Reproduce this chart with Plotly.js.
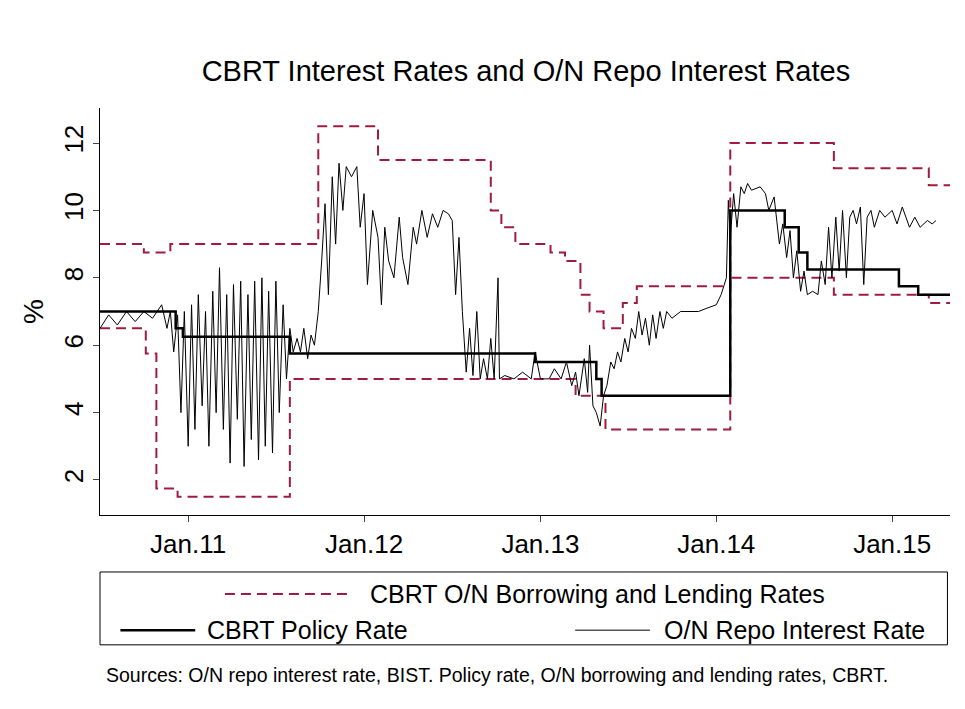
<!DOCTYPE html>
<html><head><meta charset="utf-8">
<script src="https://cdn.plot.ly/plotly-3.0.1.min.js"></script>
<style>body{margin:0;background:#fff}#gd{width:965px;height:709px}</style>
</head><body><div id="gd"></div>
<script>
// step series: [decimal year, value] start points
const upperT = [2010.5, 2010.75, 2010.9, 2011.74, 2012.08, 2012.72, 2012.78, 2012.86, 2013.06, 2013.14, 2013.23, 2013.28, 2013.36, 2013.47, 2013.55, 2014.08, 2014.67, 2015.21, 2015.33];
const upperV = [9, 8.75, 9, 12.5, 11.5, 10, 9.5, 9, 8.75, 8.5, 7.5, 7, 6.5, 7.25, 7.75, 12, 11.25, 10.75, 10.75];
const lowerT = [2010.5, 2010.76, 2010.82, 2010.94, 2011.58, 2013.2, 2013.37, 2014.08, 2014.67, 2015.21, 2015.33];
const lowerV = [6.5, 5.75, 1.75, 1.5, 5, 4.5, 3.5, 8, 7.5, 7.25, 7.25];
const policyT = [2010.5, 2010.93, 2010.97, 2011.58, 2012.97, 2013.32, 2013.35, 2014.08, 2014.39, 2014.47, 2014.52, 2015.04, 2015.15, 2015.33];
const policyV = [7, 6.5, 6.25, 5.75, 5.5, 5, 4.5, 10, 9.5, 8.75, 8.25, 7.75, 7.5, 7.5];
const repoT = [2010.5,2010.55,2010.6,2010.65,2010.7,2010.75,2010.8,2010.85,2010.88,2010.9,2010.92,2010.94,2010.96,2010.98,2011.0,2011.02,2011.04,2011.06,2011.08,2011.1,2011.12,2011.14,2011.16,2011.18,2011.2,2011.22,2011.24,2011.26,2011.28,2011.3,2011.32,2011.34,2011.36,2011.38,2011.4,2011.42,2011.44,2011.46,2011.48,2011.5,2011.52,2011.54,2011.56,2011.58,2011.6,2011.62,2011.64,2011.66,2011.68,2011.7,2011.72,2011.74,2011.76,2011.78,2011.8,2011.82,2011.84,2011.86,2011.88,2011.9,2011.93,2011.96,2011.98,2012.0,2012.02,2012.05,2012.08,2012.1,2012.12,2012.14,2012.17,2012.2,2012.22,2012.25,2012.28,2012.3,2012.33,2012.36,2012.39,2012.42,2012.45,2012.48,2012.5,2012.52,2012.54,2012.56,2012.58,2012.6,2012.62,2012.64,2012.66,2012.68,2012.7,2012.72,2012.74,2012.76,2012.77,2012.8,2012.85,2012.9,2012.95,2012.97,2013.0,2013.05,2013.08,2013.12,2013.15,2013.18,2013.2,2013.22,2013.25,2013.27,2013.28,2013.3,2013.32,2013.34,2013.36,2013.38,2013.4,2013.42,2013.44,2013.46,2013.48,2013.5,2013.52,2013.54,2013.56,2013.58,2013.6,2013.62,2013.64,2013.66,2013.68,2013.7,2013.72,2013.75,2013.8,2013.85,2013.9,2013.95,2014.0,2014.03,2014.06,2014.07,2014.08,2014.1,2014.12,2014.14,2014.16,2014.18,2014.2,2014.25,2014.28,2014.3,2014.33,2014.36,2014.38,2014.4,2014.42,2014.44,2014.46,2014.48,2014.5,2014.52,2014.55,2014.58,2014.6,2014.62,2014.64,2014.66,2014.68,2014.7,2014.72,2014.74,2014.76,2014.78,2014.8,2014.82,2014.84,2014.86,2014.88,2014.9,2014.93,2014.96,2015.0,2015.03,2015.06,2015.1,2015.13,2015.16,2015.2,2015.23,2015.25];
const repoV = [6.5,6.9,6.6,7.0,6.7,7.0,6.8,7.2,6.5,7.0,5.8,6.9,4.0,7.0,3.0,7.2,3.5,7.5,4.2,7.0,3.0,7.6,4.0,8.3,3.5,7.5,2.5,7.8,3.8,7.9,2.4,7.5,3.2,7.9,2.6,8.0,3.0,7.6,2.8,7.9,4.0,7.2,5.0,6.5,5.8,6.2,5.8,6.5,5.6,6.3,6.0,7.0,8.5,10.2,7.5,11.0,9.0,11.4,10.0,11.3,11.0,11.3,9.5,10.5,7.8,10.0,9.2,7.2,9.5,8.5,8.0,9.8,8.6,7.8,9.5,9.0,10.0,9.2,9.9,9.5,10.0,9.9,9.7,7.5,9.2,7.0,5.2,6.5,5.1,7.0,5.0,5.6,5.0,6.2,5.0,8.0,5.0,5.1,5.0,5.2,5.0,5.8,5.0,5.0,5.3,5.0,5.5,4.8,5.2,4.5,5.6,4.6,6.0,4.2,4.0,3.6,4.5,4.8,5.5,5.3,5.8,5.5,6.2,5.8,6.5,6.2,7.0,6.3,6.8,6.0,6.9,6.2,7.0,6.5,7.0,6.8,7.0,7.0,7.0,7.1,7.2,7.5,8.0,10.3,9.2,10.5,9.5,10.7,10.5,10.8,10.6,10.7,10.5,10.0,10.4,9.0,9.6,8.6,9.4,8.0,8.8,7.6,8.2,7.5,7.6,7.5,8.5,7.8,9.5,8.0,9.8,8.2,10.0,8.0,9.8,10.0,9.6,10.1,7.8,9.8,10.0,9.5,10.0,9.8,10.0,9.6,10.1,9.5,9.8,9.5,9.7,9.6,9.7];
const tickYears = [2011, 2012, 2013, 2014, 2015];
const tickText = ['Jan.11', 'Jan.12', 'Jan.13', 'Jan.14', 'Jan.15'];

function toDate(y) {
  const yr = Math.floor(y);
  const start = Date.UTC(yr, 0, 1), end = Date.UTC(yr + 1, 0, 1);
  return new Date(start + (y - yr) * (end - start)).toISOString().slice(0, 10);
}
const red = '#a01c3e';
const data = [
  {x: upperT.map(toDate), y: upperV, mode: 'lines', line: {shape: 'hv', color: red, width: 2, dash: '10px,6px'}},
  {x: lowerT.map(toDate), y: lowerV, mode: 'lines', line: {shape: 'hv', color: red, width: 2, dash: '10px,6px'}},
  {x: repoT.map(toDate), y: repoV, mode: 'lines', line: {color: '#000', width: 1}},
  {x: policyT.map(toDate), y: policyV, mode: 'lines', line: {shape: 'hv', color: '#000', width: 2.5}}
];
const f = 'Liberation Sans, Arial, sans-serif';
const layout = {
  width: 965, height: 709, showlegend: false,
  paper_bgcolor: '#fff', plot_bgcolor: '#fff',
  margin: {l: 100, r: 15, t: 108, b: 194},
  title: {text: 'CBRT Interest Rates and O/N Repo Interest Rates', font: {family: f, size: 29, color: '#000'}, x: 0.545, y: 0.9, yanchor: 'middle'},
  xaxis: {type: 'date', range: [toDate(2010.5), toDate(2015.33)], tickvals: tickYears.map(toDate), ticktext: tickText,
    showgrid: false, zeroline: false, showline: true, linecolor: '#000', ticks: 'outside', ticklen: 6,
    tickfont: {family: f, size: 26, color: '#000'}},
  yaxis: {range: [0.96, 13.04], tickvals: [2, 4, 6, 8, 10, 12], tickangle: -90, showgrid: false, zeroline: false,
    showline: true, linecolor: '#000', ticks: 'outside', ticklen: 6, tickfont: {family: f, size: 26, color: '#000'},
    title: {text: '%', font: {family: f, size: 28, color: '#000'}, standoff: 6}},
  shapes: [
    {type: 'rect', xref: 'paper', yref: 'paper', x0: 0, x1: 0.997, y0: -0.319, y1: -0.140, line: {color: '#000', width: 1}},
    {type: 'line', xref: 'paper', yref: 'paper', x0: 0.147, x1: 0.297, y0: -0.194, y1: -0.194, line: {color: red, width: 2, dash: '10px,6px'}},
    {type: 'line', xref: 'paper', yref: 'paper', x0: 0.024, x1: 0.112, y0: -0.283, y1: -0.283, line: {color: '#000', width: 2.5}},
    {type: 'line', xref: 'paper', yref: 'paper', x0: 0.559, x1: 0.647, y0: -0.283, y1: -0.283, line: {color: '#000', width: 1}}
  ],
  annotations: [
    {xref: 'paper', yref: 'paper', x: 0.315, y: -0.194, xanchor: 'left', yanchor: 'middle', showarrow: false, text: 'CBRT O/N Borrowing and Lending Rates', font: {family: f, size: 25, color: '#000'}},
    {xref: 'paper', yref: 'paper', x: 0.124, y: -0.283, xanchor: 'left', yanchor: 'middle', showarrow: false, text: 'CBRT Policy Rate', font: {family: f, size: 25, color: '#000'}},
    {xref: 'paper', yref: 'paper', x: 0.661, y: -0.283, xanchor: 'left', yanchor: 'middle', showarrow: false, text: 'O/N Repo Interest Rate', font: {family: f, size: 25, color: '#000'}},
    {xref: 'paper', yref: 'paper', x: 0.005, y: -0.393, xanchor: 'left', yanchor: 'middle', showarrow: false, text: 'Sources: O/N repo interest rate, BIST. Policy rate, O/N borrowing and lending rates, CBRT.', font: {family: f, size: 19.5, color: '#000'}}
  ]
};
Plotly.newPlot('gd', data, layout, {displayModeBar: false});
</script></body></html>
